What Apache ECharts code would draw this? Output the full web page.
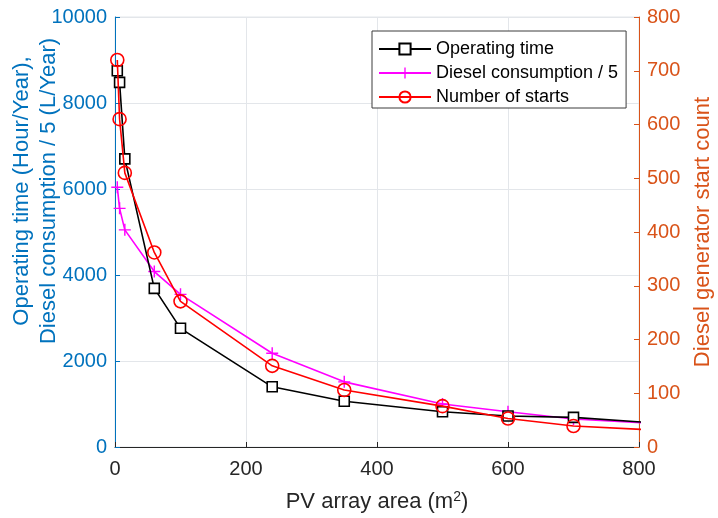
<!DOCTYPE html>
<html><head><meta charset="utf-8">
<script src="https://cdn.jsdelivr.net/npm/echarts@6/dist/echarts.min.js"></script>
<style>html,body{margin:0;padding:0;background:#fff}#c{width:718px;height:518px}</style>
</head><body><div id="c"></div>
<script>
// PV array area (m^2); the last point lies beyond the 800 axis limit (line is clipped there)
const areas = [3.5, 7, 15, 60, 100, 240, 350, 500, 600, 700, 1000];
const operatingTime = [8750, 8480, 6700, 3690, 2760, 1400, 1065, 820, 720, 688, 382];
const dieselPer5   = [6040, 5550, 5050, 4080, 3550, 2180, 1515, 1000, 820, 650, 410];
const starts       = [720, 610, 510, 362, 271, 151, 106, 76, 53, 39, 21];
const leftTicks = {min: 0, max: 10000, interval: 2000};
const rightTicks = {min: 0, max: 800, interval: 100};
const xTicks = {min: 0, max: 800, interval: 200};

const FONT = 'Liberation Sans, Arial, Helvetica, sans-serif';
const BLUE = '#0072BD', ORANGE = '#D95319', DARK = '#262626';
const pair = (xs, ys) => xs.map((x, i) => [x, ys[i]]);
const plus = 'path://M4.4,0h1.2v10h-1.2z M0,4.4h10v1.2h-10z';
const plain = v => String(v);

const chart = echarts.init(document.getElementById('c'), null, {renderer: 'canvas'});
chart.setOption({
  animation: false,
  backgroundColor: '#fff',
  textStyle: {fontFamily: FONT},
  grid: {left: 115, right: 79, top: 17, bottom: 71, containLabel: false, outerBoundsMode: 'none',
         show: true, borderColor: '#e3e6ea', borderWidth: 1},
  legend: {
    left: 372, top: 31, orient: 'vertical',
    backgroundColor: '#fff', borderColor: '#3c3c3c', borderWidth: 1,
    padding: [9, 8, 2, 6], itemGap: 6, itemWidth: 52, itemHeight: 14,
    textStyle: {fontFamily: FONT, fontSize: 18, color: '#000'},
    data: ['Operating time', 'Diesel consumption / 5', 'Number of starts']
  },
  xAxis: {
    type: 'value', ...xTicks,
    name: '{a|PV array area (m}{s|2}{a|)}', nameLocation: 'middle', nameGap: 42,
    nameTextStyle: {rich: {
      a: {fontFamily: FONT, fontSize: 22, color: DARK, lineHeight: 26},
      s: {fontFamily: FONT, fontSize: 14, color: DARK, lineHeight: 26, padding: [0, 0, 10, 0]}
    }},
    axisLine: {lineStyle: {color: DARK, width: 1}},
    axisTick: {inside: true, length: 5, lineStyle: {color: DARK}},
    axisLabel: {color: DARK, fontSize: 20, fontFamily: FONT, margin: 12, formatter: plain},
    splitLine: {show: true, lineStyle: {color: '#e3e6ea', width: 1}}
  },
  yAxis: [{
    type: 'value', ...leftTicks, position: 'left',
    name: 'Operating time (Hour/Year),\nDiesel consumption / 5 (L/Year)',
    nameLocation: 'middle', nameRotate: 90, nameGap: 53, nameMoveOverlap: false,
    nameTextStyle: {color: BLUE, fontSize: 22, fontFamily: FONT, lineHeight: 27, align: 'center',
                    padding: [0, 0, 0, 82]},
    axisLine: {show: true, lineStyle: {color: BLUE, width: 1}},
    axisTick: {show: true, inside: true, length: 5, lineStyle: {color: BLUE}},
    axisLabel: {color: BLUE, fontSize: 20, fontFamily: FONT, margin: 8, formatter: plain},
    splitLine: {show: true, lineStyle: {color: '#e3e6ea', width: 1}}
  }, {
    type: 'value', ...rightTicks, position: 'right',
    name: 'Diesel generator start count',
    nameLocation: 'middle', nameRotate: 90, nameGap: 53, nameMoveOverlap: false,
    nameTextStyle: {color: ORANGE, fontSize: 22, fontFamily: FONT},
    axisLine: {show: true, lineStyle: {color: ORANGE, width: 1}},
    axisTick: {show: true, inside: true, length: 5, lineStyle: {color: ORANGE}},
    axisLabel: {color: ORANGE, fontSize: 20, fontFamily: FONT, margin: 8, formatter: plain},
    splitLine: {show: false}
  }],
  series: [{
    name: 'Operating time', type: 'line', yAxisIndex: 0,
    data: pair(areas, operatingTime), clip: true,
    symbol: 'rect', symbolSize: 10,
    lineStyle: {color: '#000', width: 1.6},
    itemStyle: {color: '#fff', borderColor: '#000', borderWidth: 1.6},
    z: 3
  }, {
    name: 'Diesel consumption / 5', type: 'line', yAxisIndex: 0,
    data: pair(areas, dieselPer5), clip: true,
    symbol: plus, symbolSize: 12,
    lineStyle: {color: '#FF00FF', width: 1.6},
    itemStyle: {color: '#FF00FF'},
    z: 2
  }, {
    name: 'Number of starts', type: 'line', yAxisIndex: 1,
    data: pair(areas, starts), clip: true,
    symbol: 'circle', symbolSize: 13,
    lineStyle: {color: '#FF0000', width: 1.6},
    itemStyle: {color: 'rgba(255,255,255,0)', borderColor: '#FF0000', borderWidth: 1.6},
    z: 4
  }]
});
</script></body></html>
